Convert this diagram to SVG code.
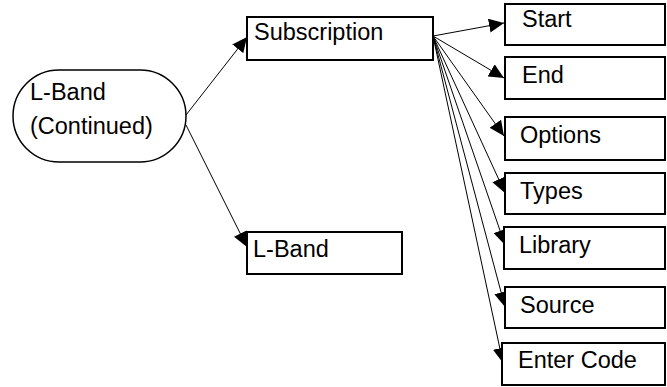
<svg xmlns="http://www.w3.org/2000/svg" width="667" height="387" viewBox="0 0 667 387">
<style>
.box{fill:#fff;stroke:#000;stroke-width:2}
.oval{fill:#fff;stroke:#000;stroke-width:1.5}
.t{font-family:"Liberation Sans",Arial,sans-serif;font-size:23.5px;fill:#000}
.c{stroke:#000;stroke-width:1;fill:none;marker-end:url(#ah)}
</style>
<defs>
<marker id="ah" markerUnits="userSpaceOnUse" markerWidth="16" markerHeight="14" refX="15" refY="7" orient="auto" viewBox="0 0 16 14">
<path d="M0,0 L15,7 L0,14 Z" fill="#000"/>
</marker>
</defs>
<g id="connectors">
<line class="c" x1="186" y1="115" x2="247" y2="37"/>
<line class="c" x1="186" y1="125" x2="247" y2="247"/>
<line class="c" x1="433" y1="36" x2="504" y2="23"/>
<line class="c" x1="433" y1="36" x2="504" y2="78"/>
<line class="c" x1="433" y1="36" x2="504" y2="136"/>
<line class="c" x1="433" y1="36" x2="505" y2="193"/>
<line class="c" x1="433" y1="36" x2="505" y2="245"/>
<line class="c" x1="433" y1="36" x2="505" y2="307"/>
<line class="c" x1="433" y1="36" x2="503" y2="363"/>
</g>
<g id="lband-continued">
<rect class="oval" x="13" y="70" width="173" height="92" rx="46" ry="46"/>
<text class="t" x="30" y="100">L-Band</text>
<text class="t" x="30" y="134">(Continued)</text>
</g>
<g id="subscription">
<rect class="box" x="247" y="17" width="186" height="43"/>
<text class="t" x="254" y="40">Subscription</text>
</g>
<g id="lband">
<rect class="box" x="247" y="232" width="155" height="42"/>
<text class="t" x="253" y="257">L-Band</text>
</g>
<g id="start">
<rect class="box" x="505" y="4" width="160" height="41"/>
<text class="t" x="522" y="27">Start</text>
</g>
<g id="end">
<rect class="box" x="505" y="57" width="160" height="42"/>
<text class="t" x="522" y="83">End</text>
</g>
<g id="options">
<rect class="box" x="505" y="117" width="160" height="43"/>
<text class="t" x="520" y="143">Options</text>
</g>
<g id="types">
<rect class="box" x="505" y="173" width="160" height="41"/>
<text class="t" x="520" y="199">Types</text>
</g>
<g id="library">
<rect class="box" x="504" y="227" width="161" height="42"/>
<text class="t" x="519" y="253">Library</text>
</g>
<g id="source">
<rect class="box" x="505" y="287" width="160" height="41"/>
<text class="t" x="520" y="313">Source</text>
</g>
<g id="enter-code">
<rect class="box" x="502" y="343" width="163" height="42"/>
<text class="t" x="518" y="368">Enter Code</text>
</g>
</svg>
